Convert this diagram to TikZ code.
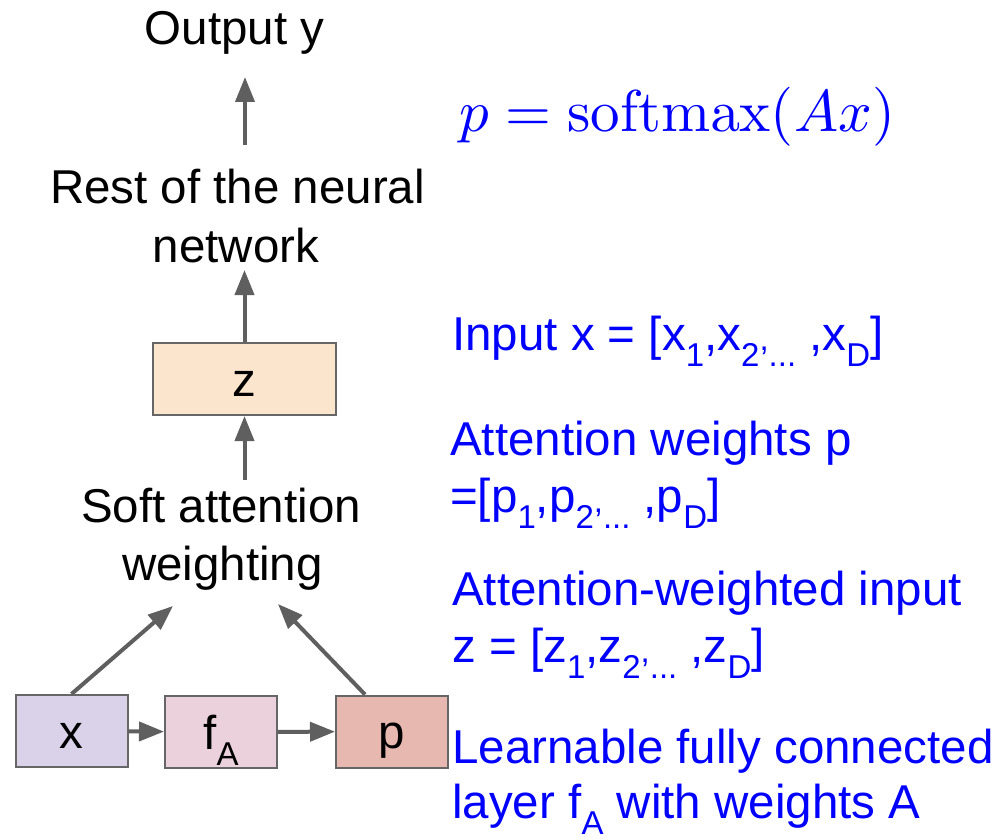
\documentclass[tikz,border=0pt]{standalone}
\usepackage{graphicx}
\usepackage[no-math]{fontspec}
\setmainfont{Liberation Sans}
\usetikzlibrary{arrows.meta}

\definecolor{arrowgray}{HTML}{5F5F5F}
\definecolor{edgegray}{HTML}{666666}
\definecolor{boxlav}{HTML}{D9D2E9}
\definecolor{boxpink}{HTML}{EAD1DC}
\definecolor{boxrose}{HTML}{E6B8AF}
\definecolor{boxpeach}{HTML}{FCE5CD}
\definecolor{noteblue}{HTML}{0000FF}

% body text size and lowered subscripts
\newcommand\bigtext{\fontsize{47.5}{57}\selectfont}
\newcommand\subsz{\fontsize{33}{33}\selectfont}
\newcommand\lowsub[1]{\raisebox{-16pt}{\subsz #1}}

\tikzset{
  box/.style={draw=edgegray, line width=2pt, minimum width=112pt,
    minimum height=72pt, inner sep=0pt, text height=34pt, text depth=0pt,
    font=\bigtext},
  txt/.style={inner sep=0pt, anchor=base, font=\bigtext},
  note/.style={inner sep=0pt, anchor=base west, font=\bigtext, text=noteblue},
  arr/.style={draw=arrowgray, line width=4pt,
    -{Triangle[length=25pt,width=19pt]}},
}

\begin{document}
\begin{tikzpicture}[x=1pt,y=-1pt]
\useasboundingbox (0,0) rectangle (1007,840);

% boxes
\node[box, fill=boxlav] (xin) at (71.5,731) {x};
\node[box, fill=boxpink] (fa) at (221,732) {f\lowsub{A}};
\node[box, fill=boxrose] (pw) at (392,731.5) {p};
\node[box, fill=boxpeach, minimum width=183pt] (zbox) at (244.5,379) {z};

% black labels
\node[txt] (out) at (234.5,45) {Output y};
\node[txt] (rest1) at (237.5,204) {Rest of the neural};
\node[txt] (rest2) at (236,262) {network};
\node[txt] (soft1) at (221,522) {Soft attention};
\node[txt] (soft2) at (222.5,580) {weighting};

% formula
\node[anchor=base west, inner sep=0pt, text=noteblue] (sm) at (459,132)
  {\scalebox{5.9}{\fontsize{10}{12}\selectfont $p=\mathrm{softmax}(Ax)$}};

% blue notes
\node[note] (in) at (452,350)
  {Input x = [x\lowsub{1},x\lowsub{2}{\subsz ,}\lowsub{...} ,x\lowsub{D}]};
\node[note] (aw1) at (450,455) {Attention weights p};
\node[note] (aw2) at (450,512)
  {=[p\lowsub{1},p\lowsub{2}{\subsz ,}\lowsub{...} ,p\lowsub{D}]};
\node[note] (awi1) at (452,605) {Attention-weighted input};
\node[note] (awi2) at (452,662)
  {z = [z\lowsub{1},z\lowsub{2}{\subsz ,}\lowsub{...} ,z\lowsub{D}]};
\node[note] (lf1) at (452,763) {Learnable fully connected};
\node[note] (lf2) at (452,818) {layer f\lowsub{A} with weights A};

% arrow ends
\coordinate (oTail) at (245,145);
\coordinate (oTip) at (245,77);
\coordinate (rTip) at (244.5,270);
\coordinate (sTail) at (244.5,480);
\coordinate (lTip) at (173,606);
\coordinate (rgTip) at (278,604);

% arrows
\draw[arr] (oTail) -- (oTip);
\draw[arr] (zbox.north) -- (rTip);
\draw[arr] (sTail) -- (zbox.south);
\draw[arr] (xin.north) -- (lTip);
\draw[arr] ([xshift=-27pt]pw.north) -- (rgTip);
\draw[arr] (xin) -- (fa);
\draw[arr] (fa) -- (pw);
\end{tikzpicture}
\end{document}
